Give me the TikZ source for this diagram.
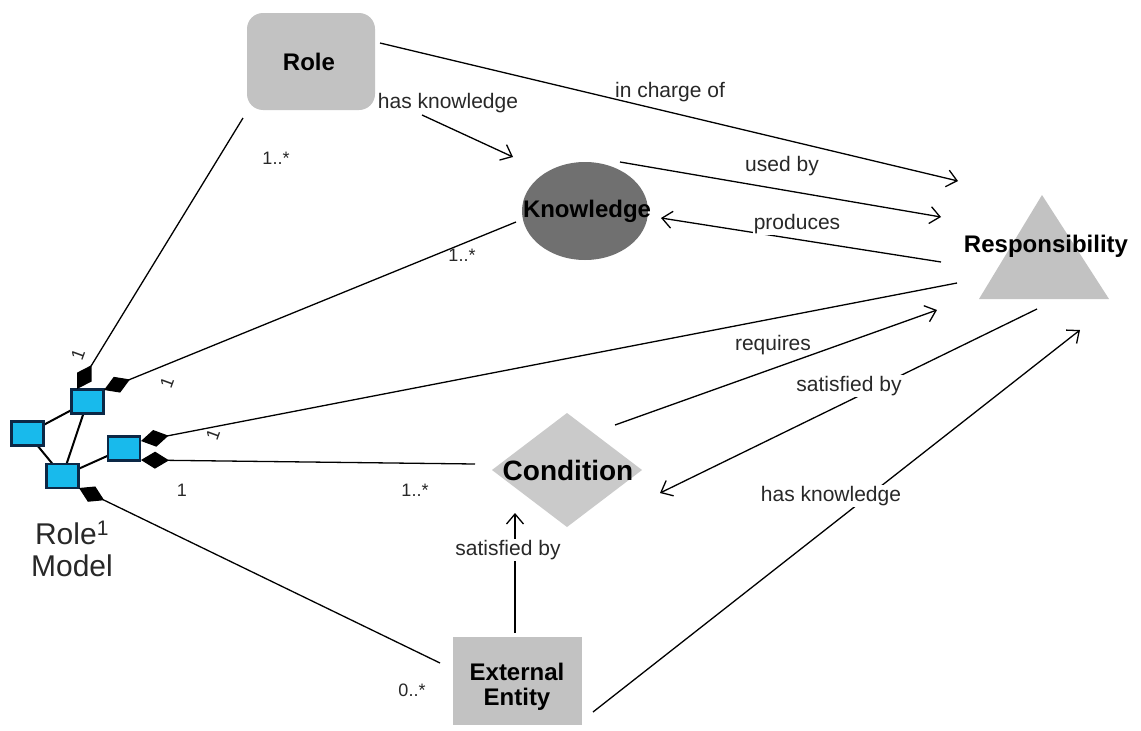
\documentclass[tikz,border=0pt]{standalone}
\usepackage{fontspec}
\setmainfont{Liberation Sans}
\usetikzlibrary{arrows.meta,shapes.geometric}

\definecolor{boxgray}{RGB}{194,194,194}
\definecolor{knowgray}{RGB}{112,112,112}
\definecolor{condgray}{RGB}{202,202,202}
\definecolor{rmfill}{RGB}{24,186,236}
\definecolor{rmedge}{RGB}{12,40,70}
\definecolor{labeltext}{RGB}{40,40,40}

\tikzset{
  conn/.style={line width=1.3pt, draw=black},
  rmlink/.style={line width=2pt, draw=black},
  arr/.style={conn, -{Straight Barb[length=10pt,width=17pt,line width=1.3pt]}},
  comp/.style={conn, {Diamond[length=28pt,width=17pt]}-},
  title/.style={font=\fontsize{24}{26}\selectfont\bfseries, text=black, inner sep=0pt},
  rel/.style={font=\fontsize{21}{23}\selectfont, text=labeltext, inner sep=1pt},
  relbg/.style={rel, fill=white},
  mult/.style={font=\fontsize{18}{20}\selectfont, text=labeltext, inner sep=0pt},
  rmbox/.style={draw=rmedge, fill=rmfill, line width=2.2pt, minimum width=32pt,
                minimum height=24pt, inner sep=0pt},
  rolebox/.style={fill=boxgray, rounded corners=16pt, minimum width=128pt,
                  minimum height=97pt, inner sep=0pt},
  knowshape/.style={ellipse, fill=knowgray, minimum width=126pt,
                    minimum height=98pt, inner sep=0pt},
  extshape/.style={fill=boxgray, minimum width=129pt, minimum height=88pt, inner sep=0pt},
}

\begin{document}
\begin{tikzpicture}[x=1pt,y=-1pt]
\useasboundingbox (0,0) rectangle (1141,731);
\fill[white] (0,0) rectangle (1141,731);

% ---- main concept shapes
\node[rolebox] (role) at (311,61.5) {};
\node[knowshape] (know) at (585,211) {};
\fill[boxgray] (1042,195) -- (1109,299) -- (979,299) -- cycle;
\fill[condgray] (567,413) -- (642,470) -- (567,527) -- (492,470) -- cycle;
\node[extshape] (ext) at (517.5,681) {};

% ---- role model icon: links first, squares on top
\coordinate (pA) at (87.5,401.5);
\coordinate (pB) at (27.5,433.5);
\coordinate (pC) at (62.5,476);
\coordinate (pD) at (124,448.5);
\draw[rmlink] (pB) -- (pA);
\draw[rmlink] (pB) -- (pC);
\draw[rmlink] (pA) -- (pC);
\draw[rmlink] (pC) -- (pD);
\node[rmbox] (rmA) at (pA) {};
\node[rmbox] (rmB) at (pB) {};
\node[rmbox] (rmC) at (pC) {};
\node[rmbox] (rmD) at (pD) {};

% ---- connector end points
\coordinate (aTop)    at (77,389);
\coordinate (aRight)  at (104,390);
\coordinate (dUp)     at (141,441);
\coordinate (dLow)    at (141,460);
\coordinate (cLow)    at (79,488);
\coordinate (roleLL)  at (243,118);
\coordinate (roleR)   at (380,43);
\coordinate (roleKn)  at (422,115);
\coordinate (knowL)   at (516,222);
\coordinate (knowTop) at (620,162);
\coordinate (knowR)   at (661,218);
\coordinate (knowIn)  at (513,157);
\coordinate (respA)   at (958,181);
\coordinate (respB)   at (941,217);
\coordinate (respC)   at (941,262);
\coordinate (respD)   at (957,283);
\coordinate (respE)   at (937,310);
\coordinate (respF)   at (1037,309);
\coordinate (respG)   at (1080,330);
\coordinate (condL)   at (475,464);
\coordinate (condUR)  at (615,425);
\coordinate (condR)   at (660,493);
\coordinate (condB)   at (515,513);
\coordinate (extTop)  at (515,633);
\coordinate (extL)    at (440,663);
\coordinate (extR)    at (593,712);

% ---- composition links from the role model
\draw[comp] (aTop) -- (roleLL);
\draw[comp] (aRight) -- (knowL);
\draw[comp] (dUp) -- (respD);
\draw[comp] (dLow) -- (condL);
\draw[comp] (cLow) -- (extL);

% ---- directed relations
\draw[arr] (roleR) -- (respA);
\draw[arr] (roleKn) -- (knowIn);
\draw[arr] (knowTop) -- (respB);
\draw[arr] (respC) -- (knowR);
\draw[arr] (condUR) -- (respE);
\draw[arr] (respF) -- (condR);
\draw[arr] (extR) -- (respG);
\draw[arr] (extTop) -- (condB);

% ---- relation labels
\node[rel]   (lCharge)  at (670,92)  {in charge of};
\node[rel]   (lHasK1)   at (448,103) {has knowledge};
\node[rel]   (lUsed)    at (782,166) {used by};
\node[relbg] (lProd)    at (797,224) {produces};
\node[rel]   (lReq)     at (773,345) {requires};
\node[relbg] (lSat1)    at (849,386) {satisfied by};
\node[relbg] (lHasK2)   at (831,496) {has knowledge};
\node[relbg] (lSat2)    at (508,550) {satisfied by};

% ---- multiplicities
\node[mult] (m1) at (276,158) {1..*};
\node[mult] (m2) at (462,255) {1..*};
\node[mult] (m3) at (182,490) {1};
\node[mult] (m4) at (415,490) {1..*};
\node[mult] (m5) at (412,690) {0..*};
\node[mult, rotate=70] (m6) at (78,355) {1};
\node[mult, rotate=70] (m7) at (167,383) {1};
\node[mult, rotate=70] (m8) at (213,435) {1};

% ---- concept names
\node[title] (roleT) at (309,62) {Role};
\node[title] (knowT) at (587,211) {Knowledge};
\node[title] (respT) at (1046,246) {Responsibility};
\node[title, font=\fontsize{28}{30}\selectfont\bfseries] (condT) at (568,470) {Condition};
\node[title, align=center, font=\fontsize{24}{25}\selectfont\bfseries] (extT) at (517,687) {External\\Entity};
\node[font=\fontsize{30}{32}\selectfont, text=labeltext, align=center, inner sep=0pt]
  (rmT) at (72,549) {Role\textsuperscript{1}\\Model};
\end{tikzpicture}
\end{document}
